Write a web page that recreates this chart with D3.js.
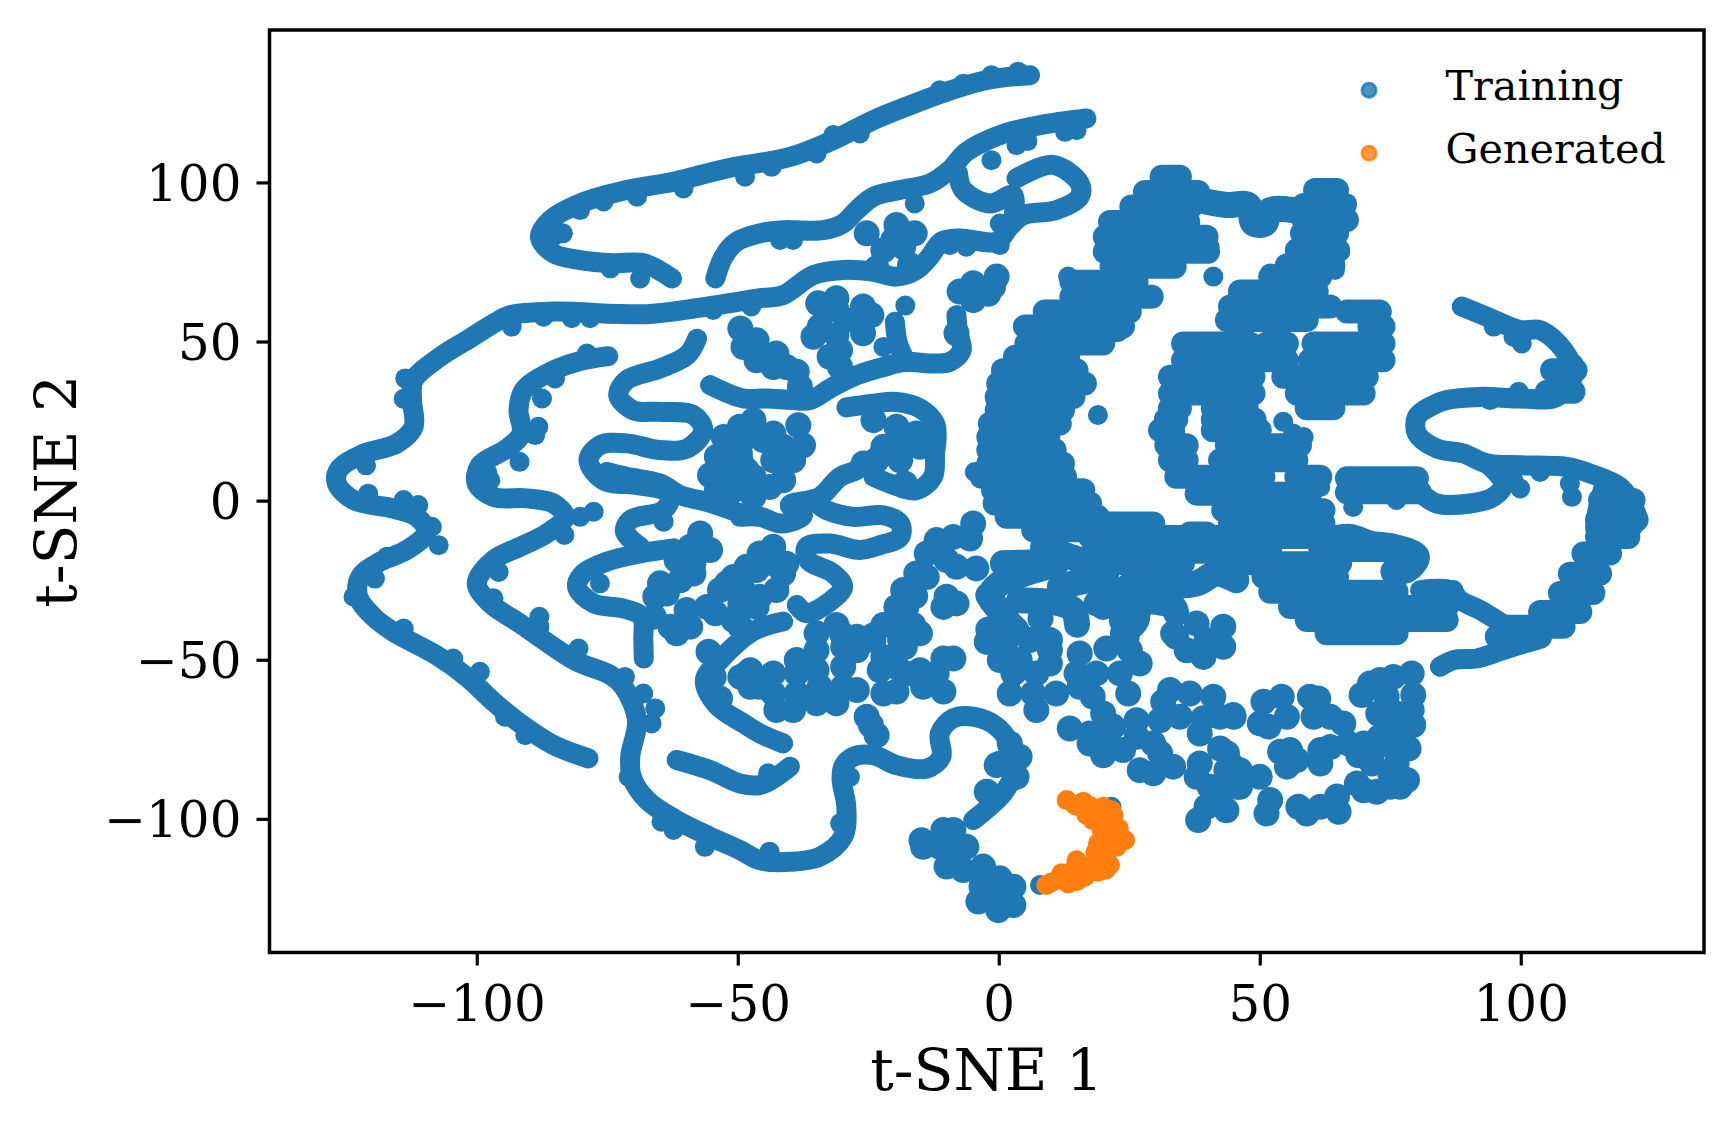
<!DOCTYPE html>
<html>
<head>
<meta charset="utf-8">
<script src="https://cdn.jsdelivr.net/npm/d3@7"></script>
<style>
	html, body { margin: 0; padding: 0; background: #fff; }
	svg { display: block; }
	text { font-family: "DejaVu Serif", serif; fill: #000; }
</style>
</head>
<body>
<div id="main"></div>
<script>
// ===========================Data=======================
const xTicks = [-100, -50, 0, 50, 100];
const yTicks = [-100, -50, 0, 50, 100];
const seriesNames = ['Training', 'Generated'];
const seriesColors = ['#1f77b4', '#ff7f0e'];

// training embedding, thin ridges as [t-SNE 1, t-SNE 2]
const ridgeTop = [[-62.6,69.8],[-68,74.6],[-73.8,74.6],[-80.2,75.6],[-85.3,77.7],[-87.9,82.9],[-85.9,88.2],[-80.2,93.4],[-71.3,97.6],[-62.3,100.2],[-52.1,104.4],[-40,108],[-31.7,113.3],[-24,119.6],[-17.7,123.8],[-10,128.5],[-2.3,132.2],[6,133.7]];
const ridgeSecond = [[-54.3,69.8],[-52.7,76.7],[-50.2,81.4],[-45.8,84],[-41.3,85],[-33.6,85],[-29.8,87.1],[-27.2,91.3],[-24,95.5],[-19,97.6],[-13.2,99.7],[-9.4,103.9],[-6.2,109.6],[.2,114.9],[7.9,118],[16.8,120.1]];
const ridgeLongest = [[-78.6,-81],[-85.3,-76.8],[-91.7,-70],[-96.8,-63.2],[-101.9,-55.4],[-107.7,-48.6],[-116,-41.2],[-119.8,-36.5],[-122.7,-30.2],[-122.3,-23.9],[-118.5,-19.2],[-113.4,-15.5],[-109.6,-9.8],[-111.5,-5.1],[-116,-2.5],[-123.6,.2],[-126.8,5.4],[-126.5,9.6],[-122.3,14.3],[-115.3,18],[-112.1,23.2],[-112.4,31.6],[-112.1,37.8],[-107,45.2],[-101.9,50.4],[-96.2,56.2],[-93.6,58.3],[-85.3,59.4],[-67.4,58.6],[-55.9,61],[-45.7,63.6],[-41.3,64.6],[-35.5,70.9],[-29.8,72.5],[-24,71.9],[-19.6,70.4],[-15.8,72.5],[-13.2,76.7],[-11,81.4],[-7.5,82.4],[-.4,81.4],[2.1,86.1],[4.7,89.7],[11,91.3],[15.5,95.5],[15.5,99.7],[10.4,105.5],[3.4,101.3]];
const ridgeLoop = [[-7.8,102.8],[-6.8,97.6],[-1.7,93.4],[2.8,96],[2.8,89.2]];
const ridgeSecondS = [[-74.8,45.4],[-80.8,43.6],[-86.6,39.9],[-91,34.7],[-92,28.4],[-91.4,21.1],[-94.2,16.4],[-99.4,11.1],[-100,5.4],[-96.8,1.2],[-90.4,.7],[-85.3,-.9],[-83.1,-5.1],[-86.6,-10.3],[-91.7,-14.5],[-96.8,-18.7],[-100,-26],[-97.4,-32.3],[-91.7,-38.6],[-87.2,-43.8],[-80.8,-50.6],[-74.4,-54.8],[-71.9,-58.5],[-69.3,-69],[-70.6,-80.5],[-70.3,-86.8],[-67.4,-94.1],[-61.7,-100.4],[-55.3,-105.6],[-49.6,-109.8],[-45.8,-113],[-40,-113.5],[-34.3,-111.9],[-29.8,-105.6],[-29.2,-96.2],[-30.1,-87.8],[-29.8,-83.6],[-27.9,-80.5],[-24,-80],[-19.6,-83.1],[-13.8,-84.2],[-11,-80.5],[-11.3,-73.2],[-8.7,-68.4],[-4.9,-67.9],[-.4,-71],[2.4,-77.4],[3.1,-84.7],[.8,-92],[-4.9,-100.4]];
const ridgeThirdS = [[-57.8,50.9],[-59.7,45.7],[-64.9,41.5],[-71.3,37.9],[-72.9,33.1],[-70,28.4],[-64.9,27.9],[-58.5,26.9],[-56.6,22.1],[-59.7,16.4],[-64.9,15.9],[-71.3,18],[-76.4,17.4],[-78.6,12.7],[-75.7,6.4],[-69.3,4.9],[-64.2,3.3],[-62.9,1.2],[-64.2,-3],[-70.6,-6.1],[-71.6,-9.8],[-68.7,-14.5]];
const ridgeThirdArm = [[-75.1,9],[-71.3,7.5],[-64.9,5.4],[-61,1.7],[-55.9,-.4],[-49.5,-4]];
const ridgeLowerHook = [[-62.3,-15],[-68.7,-16.6],[-75.1,-19.2],[-79.6,-22.9],[-80.8,-27.1],[-77.6,-32.3],[-71.9,-33.9],[-68.4,-36.5],[-68.1,-43.8],[-68,-49.6]];
const ridgeShortTail = [[-61.7,-81.5],[-55.3,-84.7],[-49.6,-88.9],[-45.8,-89.4],[-42.6,-86.8],[-40,-83.6]];
const ridgeInnerHook = [[-41.3,-38],[-47,-41],[-53.4,-50.1],[-56.3,-56.4],[-54,-64.3],[-48.9,-70],[-45.7,-73.2],[-41.3,-76.3]];
const ridgeMiddle = [[-55.3,36.3],[-48.9,32.1],[-44.5,32.1],[-39.4,31.6],[-36.2,31.6],[-31.7,35.8],[-27.2,39.4],[-22.1,42],[-17.7,43.6],[-13.2,43.1],[-9.4,43.6],[-7.1,47.3],[-7.8,53],[-8.1,58.3]];
const ridgeStem = [[-17.7,43.6],[-19.3,49.4],[-19.9,56.2]];
const ridgeRing = [[-29.2,29.3],[-24,30.5],[-19.6,31],[-15.1,29],[-12.2,24.2],[-11.9,20],[-12.2,14.8],[-12.6,7.5],[-15.8,3.3],[-20.9,5.4],[-24,7.5]];
const ridgeDiagonal = [[-49.6,-5.1],[-45.8,-5.1],[-41.6,-7.2],[-37.5,-4.6],[-40,-1.4],[-34.3,1.2],[-30.4,7.5],[-27.2,9.6],[-22.8,14.8]];
const ridgeCentreS = [[-40,-1.4],[-35.5,-.4],[-33,-3],[-27.9,-5.1],[-22.1,-4.6],[-18.9,-7.2],[-18.9,-11.4],[-22.8,-14],[-26.6,-15.5],[-32.4,-13.5],[-36.8,-14.5],[-36.5,-18.7],[-31.7,-22.9],[-29.8,-27.1],[-32.4,-31.8],[-36.8,-35.4],[-38.7,-32.8]];
const ridgeUpperRight = [[88.7,61],[93.5,57.8],[99.9,53.6],[103.7,53.6],[108.2,47.3],[110.1,39.9],[106.9,32.6],[99.9,32.1],[92.2,32.6],[85.8,31.6],[82.6,29.5],[80.1,26.3],[80.1,21.1],[83.9,16.4],[89,14.8],[93.5,11.7],[99.9,11.1],[108.8,10.6],[113.3,8.5],[119,4.3],[121.6,-1.9],[122.2,-6.1],[119.7,-10.3],[114.6,-10.3],[114.6,-4],[115.9,4.3]];
const ridgeFork = [[93.5,11.7],[96.7,5.4],[94.8,1.2],[90.3,-.9],[83.9,-.9],[80.7,2.2],[76.2,4.3],[71.1,5.4]];
const ridgeLowerRight = [[84.5,-52.2],[87.1,-50.1],[91.6,-49.6],[94.8,-48],[98.6,-45.9],[103,-43.8]];
const ridgeReturn = [[97.3,-39.6],[92.2,-34.4],[88.4,-31.3],[86.5,-28.1],[80.7,-28.1]];
const ridgeBridge = [[39.8,93.9],[43.7,92.9],[47.8,92.9],[48.8,87.1],[51,87.1],[52,91.3],[56.4,91.3]];
const ridgeBand = [[62.8,-12.4],[67.3,-11.4],[71.1,-13.5],[75.6,-14.5],[80.1,-17.6],[78.2,-21.8],[75.6,-22.3]];
const ridgeLowerA = [[8.5,-14.5],[13.6,-17.6],[15.5,-18.7],[20.6,-22.9]];
const ridgeLowerB = [[18.7,-32.3],[21.9,-30.2],[26.4,-25.5],[29.6,-25],[32.8,-26.5],[37.9,-26],[41.7,-22.9],[45.5,-25]];
const ridgeLowerC = [[.8,-19.7],[11,-19.7],[5,-22.9],[.2,-26],[-1.7,-30.2],[-.4,-33.4],[1.5,-37.5],[3.4,-40.7]];
const ridgeLowerD = [[3.9,-31.3],[11.7,-32.3],[14.3,-34.4],[15,-39]];
const ridgeLowerE = [[11.7,-27.1],[14.3,-26],[20,-24]];
const ridgeLowerF = [[26.4,-31.3],[26.4,-37.5],[23.8,-41.7]];
const ridgeLowerG = [[20,-33.4],[26.4,-31.3],[33.4,-33.4],[34,-35.4]];

// dense parts of the training cloud read as horizontal runs [t-SNE 1 from, t-SNE 1 to, t-SNE 2]
const runsCentre = [[5.8,22.7,53.6],[5.3,20,49.4],[3.1,13.3,45.2],[.8,14.9,41],[-.1,16.5,36.8],[-.4,14.3,32.6],[-.4,12.3,28.4],[-1.7,11.7,24.2],[-2,9.5,20],[-2,10.7,15.9],[-2,12.3,11.7],[-3.3,12.7,7.5],[-1.1,16.2,3.3],[-.8,17.5,-.9],[1.5,19,-5.1],[6.6,20,-9.3]];
const runsTopCentre = [[31.2,34.7,101.8],[28,38.2,97],[25.4,36.9,92.4],[21.3,36.3,87.6],[20.3,39.8,82.9],[20.3,40.1,78.2],[21.6,33.7,73.5],[13.9,26.4,68.8],[13.9,29.3,64.1],[8.8,25.1,59.4],[5,23.8,54.7]];
const runsTopRight = [[60.6,64.8,97.6],[58.4,66.3,92.9],[58.4,66.7,88.2],[58.1,64.8,84],[57.1,65,78.7],[55.2,64.1,74],[52,61.6,70.4],[46.2,60.9,65.7],[44.3,63.5,61],[43.7,59,56.8],[66.7,73,59.4],[71,73.7,54.7]];
const runsCrescent = [[35.3,48.1,49.4],[51.3,55.2,49.4],[60.3,73.7,49.4],[35.3,55.2,44.1],[59.6,73.7,44.1],[32.8,48.8,38.9],[54.5,70.5,38.9],[32.8,48.8,33.7],[57.1,69.9,33.7],[32.8,34.7,29],[41,47.5,29],[59,64.1,29],[32,34,25.5],[41,49,25.5],[30.9,33.4,22.1],[41,50,22.1],[32.1,36,17.4],[43.7,57.7,17.4],[32.8,36,12.7],[42.4,57,12.7],[34,39.8,7.5],[42.4,50.7,7.5],[57,61.6,7.5],[37.9,59.6,2.2],[43,62.2,-3],[44.3,62.2,-7.2],[46.2,66.7,-11.4],[43.7,52,-15.5],[61.6,76.2,-15.5],[45.6,65.4,-19.7],[50.7,64.8,-23.9],[52,76.2,-28.6],[55.8,85.8,-33.4],[59,85.8,-37.5],[62.8,76.2,-41.7]];
const runsBand = [[20,29.6,-7.2],[36.6,39.8,-10.3],[17.5,46.2,-11.4],[18,44.3,-16.1],[23.8,35.3,-19.7]];
const runsRightArm = [[112,117.1,-16.6],[109.4,115.2,-23],[107.5,113.9,-29],[103.7,111.4,-35],[97.3,108.2,-39.6],[95.4,103.7,-42.8],[114.6,120.6,-11.4],[114.6,122.2,-6],[115.2,121.6,.2],[66.7,80.1,7],[66.7,80.7,2.6],[105,110.1,34.2],[106,110.5,41]];

// single training points around the ridges
const bumpsUpperLeft = [[-80.2,91.3],[-75.7,94],[-69.3,95.5],[-60.4,98.1],[-48.6,101.8],[-43.5,104.9],[-34.9,109.1],[-31.7,114.9],[-26.6,115.4],[-11.3,129],[-6.8,131],[-1.4,133.7],[3.7,134.8],[-68.7,69.8],[-74.4,73],[-85.3,83],[-85.9,78.7],[-83.5,84],[-41.9,81.9],[-39.4,81.9],[-93.3,54.7],[-87.2,57.8],[-81.8,57.3],[-78.3,57.3],[-54.7,59.9],[-47.4,61],[-16.1,93.4],[-1.4,107],[3.4,111.7],[5.5,113],[12.7,115.9],[14.9,116.4],[.2,87.1],[.2,80.3],[-6.2,79.8],[-9.4,80.3],[-17.9,61.3],[-22.1,48.3]];
const bumpsLeftEdge = [[-113.7,38.4],[-114,32],[-121.2,11.1],[-120.8,2.2],[-114,.2],[-111.2,-1.4],[-108.6,-8.2],[-107.3,-14],[-117.2,-17.6],[-119.5,-24.5],[-123.6,-30.2],[-114,-40.2],[-104.5,-49.6],[-99.4,-53.8],[-94.6,-67.9],[-90.7,-73.7],[-78.9,46.2],[-85,38.4],[-87.5,32.1],[-88.2,23.2],[-88.8,20.6],[-91.8,12.2],[-97.4,6.4],[-98,9],[-77.6,-3.5],[-80.2,-5.1],[-83.2,-10.8],[-95.8,-22.4],[-96.8,-30.7],[-88,-36.5],[-88,-39.6],[-80.5,-46.5],[-71.6,-55.4],[-68.1,-60.6],[-65.8,-65.3],[-66.5,-70],[-70.9,-86.8],[-64.6,-100.9],[-62.3,-103.5],[-56.3,-108.8],[-43.9,-110.3],[-30.4,-101.4],[-28.5,-86.8],[-64.2,-6.6],[-76.4,-26],[-44.2,-85.7]];
const bumpsRight = [[40.4,79.8],[41.1,70.4],[13.3,70.4],[-4.6,9],[19,26.9],[52,71.4],[64.4,72.5],[65.4,78.2],[66.7,93.4],[54.5,24.8],[56.4,21.1],[58.4,20],[57.1,11.7],[61.6,7.5],[61.6,4.3],[67.9,-2],[76.2,.2],[99.9,3.8],[98.6,6.4],[109.8,1.2],[109.4,5.4],[103.7,9],[94.8,54.7],[100.2,49.4],[98.6,51.5],[99.6,34.2],[94.1,31.6],[108.8,41],[110.1,43],[105,34.2],[80.1,-17.6],[87.1,-28.1],[34,-33],[23,-38]];

// loose training clumps, one entry per lobe of overlapping points
const clumpUpperMiddle = [[-25.3,84],[-19.6,86.6],[-16.1,84],[-22.1,78.7],[-18.3,79.8],[-20.2,81.9],[-23.4,73],[-17,74],[-8.1,52.6],[-4.9,63],[-1.1,67.2],[-.4,70.4],[-4.9,68.3],[-7.5,65.7],[-2,65],[-49.5,54.1],[-48.9,48.3],[-46.4,44.1],[-46.4,50.4],[-46.4,47.3],[-42.6,46.2],[-40.7,42],[-38.7,40.5],[-43.2,42],[-34.6,62],[-31.1,63.6],[-26,61],[-24.4,58.3],[-34.3,54.7],[-29.2,56.8],[-31.1,59.9],[-27,57],[-35.5,51.5],[-31.1,52],[-26,52.6],[-32.4,45.2],[-30.4,47.3],[-30.4,42],[-38.1,35.8]];
const clumpMidLeft = [[-38.4,23.7],[-37.5,17.4],[-39.4,12.7],[-41.3,6.4],[-43.2,21.1],[-47,25.3],[-49.6,23.2],[-43.2,12.7],[-47,7.5],[-43.9,4.3],[-49.6,14.8],[-41.3,16.9],[-49.6,7.5],[-47,1.2],[-45.1,19],[-49,19],[-52.7,20],[-54,13.8],[-50.2,20],[-55.3,8],[-52.1,8.5],[-50.8,3.3],[-54,3.3],[-49.5,12.7],[-52.1,14.8],[-48.3,9.6],[-24,25.3],[-19.6,23.2],[-15.8,21.1],[-22.1,16.9],[-19.6,15.9],[-18.9,12.7],[-15.1,16.9],[-17.7,19],[-23.4,12.7],[-25.9,11.7],[-18,5.4]];
const clumpLowerLeft = [[-43.2,-14.5],[-41.3,-22.9],[-45.8,-16.6],[-40.7,-19.8],[-48.3,-20.8],[-43.2,-19.8],[-42.6,-28.1],[-45.8,-30.2],[-49,-28.1],[-46.4,-33.4],[-49.6,-34.4],[-57.2,-10.3],[-55.3,-15.5],[-59.1,-14.5],[-58.5,-19.8],[-61.7,-18.7],[-64.9,-26],[-58.5,-22.9],[-63.6,-29.2],[-65.8,-30.2],[-61,-25],[-66.1,-36.5],[-59.8,-34.4],[-55.9,-33.4],[-62.9,-39.6],[-59.1,-39.6],[-61.7,-41.7],[-54.3,-35.4],[-50.8,-37.5],[-49.5,-39.6],[-52.1,-26],[-49.5,-27.1],[-53.4,-28.1],[-46.4,-21.8],[-50.8,-24],[-47.6,-32.3],[-49.5,-32.3],[-55.6,-47.5],[-54.6,-55.4],[-53.4,-62.2],[-49.5,-55.4],[-47.6,-58.5],[-47.6,-53.3],[-46.4,-57.5]];
const clumpLowerMiddle = [[-48.3,-54.3],[-43.2,-54.3],[-38.7,-50.1],[-34.9,-47],[-29.8,-45.9],[-24,-43.8],[-18.9,-43.8],[-15.1,-41.7],[-38.7,-54.3],[-43.2,-60.6],[-38.7,-60.6],[-34.3,-58.5],[-29.8,-58.5],[-27.2,-59.5],[-31.1,-63.7],[-34.9,-63.7],[-42.6,-65.8],[-45.8,-58.5],[-39.4,-65.8],[-34.9,-53.3],[-29.8,-52.2],[-27.2,-47],[-22.1,-49.1],[-19.6,-52.2],[-22.8,-53.3],[-22.1,-60.6],[-19.6,-60],[-15.1,-53.3],[-10.6,-49.6],[-8.7,-49.6],[-11.9,-54.3],[-10.6,-60],[-14.5,-58.5],[-17.7,-54.3],[-25.3,-67.9],[-23.4,-73.7],[-24.5,-70.5],[-34.9,-41.7],[-31.1,-39.1],[-24,-42.3],[-18.3,-40.2],[-16.4,-39.1],[-17.7,-33.4],[-18.3,-28.1],[-13.8,-16.6],[-15.8,-22.9],[-8.1,-20.8],[-4.3,-21.3],[-10,-30.2],[-8.1,-32.3],[-10.6,-33.4],[-11.9,-12.4],[-8.7,-11.4],[-4.9,-7.2],[-5.5,-11.9],[-13.8,-24],[-10,-18.7],[-19.6,-33.4],[-22.1,-39.1],[-27.2,-42.8],[-16,-30],[-30,-42],[-18,-46]];
const clumpCentreNet = [[-2.3,-44.4],[1.5,-43.8],[6,-43.8],[9.8,-43.8],[9.8,-47],[.2,-50.1],[4,-50],[9.8,-51.2],[2.8,-54.3],[7.2,-54.3],[2.1,-60.6],[6.6,-60.6],[7.2,-65.8],[11,-60.6],[15.5,-58.5],[14.9,-54.3],[18.7,-54.3],[23.2,-54.3],[27,-51.2],[15.5,-48],[20.6,-46.5],[25.1,-47],[24.5,-42.8],[24.8,-60.6],[26.4,-69],[18,-61.6],[20,-66.9],[21.9,-71],[13.6,-71.6],[17.4,-73.2],[17.4,-76.3],[20.6,-73.2],[20,-80],[23.8,-78.4],[26.4,-74.2],[29.6,-76.3],[30.9,-79.4],[27,-84.7],[29.6,-85.7],[33.4,-83.6],[32.8,-59.5],[31.5,-63.2],[36.6,-60.6],[41.1,-61.6],[30.9,-69],[34.7,-67.9],[39.2,-68.4],[38.5,-73.2],[42.4,-67.9],[44.9,-67.4],[42.4,-77.9],[38.5,-82.6],[37.9,-86.8],[40.4,-89.9],[43.6,-84.7],[45.5,-84.7],[43,-91],[43.6,-97.3],[39.8,-96.2],[38.2,-100.4],[33.4,-41.7],[37.9,-38.6],[43,-39.6],[34,-42.8],[39.2,-49.1],[36,-47],[43,-45.9],[39.8,-43.8],[-2,-29.7],[8,-37],[-2,-40.5]];
const clumpLowerRight = [[43.7,-79.4],[44.3,-82.6],[46.2,-89.9],[45.6,-89.9],[50,-86.8],[55.2,-83.6],[61.6,-82.6],[46.2,-84.7],[53.9,-78.9],[55.8,-78.4],[57.1,-81.5],[61.6,-78.4],[63.5,-77.4],[52,-94.1],[51.3,-98.3],[57.4,-96.2],[59,-98.3],[61.6,-96.2],[64.8,-93],[65.1,-97.8],[50.7,-63.2],[54.2,-61.6],[50,-70],[51.7,-71],[55.2,-67.9],[59.6,-61.6],[61.2,-62.2],[60.3,-67.9],[63.5,-67.9],[66,-70],[45,-67.9],[71.1,-57.5],[69.5,-61.1],[73,-56.4],[79.1,-54.3],[75.6,-55.4],[79.4,-61.1],[74.3,-61.6],[72.7,-66.9],[76.2,-66.9],[79.1,-65.8],[79.4,-70.5],[76.2,-72.1],[73,-74.2],[69.9,-76.3],[67,-76.3],[68.9,-80],[72.4,-77.4],[78.5,-77.9],[76.2,-78.4],[71.5,-82.6],[76.2,-82.6],[75,-85.7],[78.2,-87.8],[75,-89.9],[72.4,-91.5],[68.6,-88.9],[69.9,-91],[76.9,-89.9]];
const clumpBottom = [[-14.8,-106.7],[-10.6,-103.5],[-8.7,-103.5],[-14.5,-108.8],[-11.3,-108.8],[-8.7,-108.8],[-6.2,-108.8],[-10,-115],[-6.8,-116.1],[-3,-115],[-2.7,-119.2],[.2,-118.7],[2.8,-121.3],[-3.3,-121.3],[-3.9,-126],[-.1,-128.7],[2.8,-127.1],[-.4,-123.4],[.3,-82.6],[2.1,-76.3],[-.4,-83.1],[-2.3,-91.5],[3.4,-86.8],[4,-80.5]];
const bumpsUnderGenerated = [[7.9,-120.8],[21.6,-96.2]];

// generated samples
const generatedX = [13,16.2,18,20,21.6,19.7,22.6,24.2,19,22.6,18.7,21.3,19,14.9,14.3,16.5,12,13.3,9.1,11.1,16.8,14.5,17.5,15,19,20,21,23,20.5,23,21,20,18.5,20.5,17,15.5,12.5,15,10,21.5,22];
const generatedY = [-94.1,-94.6,-100.4,-96.2,-97.3,-103.5,-104.6,-106.7,-107.7,-108.8,-113,-114.5,-116.6,-113,-116,-118.2,-117.1,-120.3,-120.8,-119.2,-98.8,-95.5,-96,-96,-99,-100,-102,-103,-106,-106,-110,-112,-110.5,-116,-115,-115,-119,-119.5,-120,-106,-99];

const allRidges = [ridgeTop, ridgeSecond, ridgeLongest, ridgeLoop, ridgeSecondS, ridgeThirdS, ridgeThirdArm, ridgeLowerHook, ridgeShortTail, ridgeInnerHook, ridgeMiddle, ridgeStem, ridgeRing, ridgeDiagonal, ridgeCentreS, ridgeUpperRight, ridgeFork, ridgeLowerRight, ridgeReturn];
const thickRidges = [ridgeBridge, ridgeBand, ridgeLowerA, ridgeLowerB, ridgeLowerC, ridgeLowerD, ridgeLowerE, ridgeLowerF, ridgeLowerG];
const allRuns = [].concat(runsCentre, runsTopCentre, runsTopRight, runsCrescent, runsBand, runsRightArm);
const allBumps = [].concat(bumpsUpperLeft, bumpsLeftEdge, bumpsRight, bumpsUnderGenerated);
const allClumps = [].concat(clumpUpperMiddle, clumpMidLeft, clumpLowerLeft, clumpLowerMiddle, clumpCentreNet, clumpLowerRight, clumpBottom);

// ======================svg container config===================
const svgResolution = { "width": 1734, "height": 1134 };
const plotBox = { left: 269.5, right: 1704, top: 30, bottom: 952.5 };
const pointRadius = 10;
const clumpRadius = 13;

const svgContainer = d3.select('#main').append('svg')
	.attr('width', svgResolution['width'])
	.attr('height', svgResolution['height']);

var x_scale = d3.scaleLinear().domain([-139.7, 135.1]).range([plotBox.left, plotBox.right]);
var y_scale = d3.scaleLinear().domain([-142, 147.9]).range([plotBox.bottom, plotBox.top]);

// ======================training cloud===================
var ridgeLine = d3.line().x(d => x_scale(d[0])).y(d => y_scale(d[1])).curve(d3.curveCatmullRom);
const cloud = svgContainer.append('g').attr('class', 'training');

function drawRidges(list, width){
	cloud.selectAll(null).data(list).enter().append('path')
		.attr('d', ridgeLine)
		.attr('fill', 'none')
		.attr('stroke', seriesColors[0])
		.attr('stroke-width', width)
		.attr('stroke-linecap', 'round')
		.attr('stroke-linejoin', 'round');
}
function drawPoints(list, radius){
	cloud.selectAll(null).data(list).enter().append('circle')
		.attr('cx', d => x_scale(d[0]))
		.attr('cy', d => y_scale(d[1]))
		.attr('r', radius)
		.attr('fill', seriesColors[0]);
}

drawRidges(allRidges, 20);
drawRidges(thickRidges, 26);

cloud.selectAll('line.run').data(allRuns).enter().append('line')
	.attr('class', 'run')
	.attr('x1', d => x_scale(d[0]))
	.attr('x2', d => x_scale(d[1]))
	.attr('y1', d => y_scale(d[2]))
	.attr('y2', d => y_scale(d[2]))
	.attr('stroke', seriesColors[0])
	.attr('stroke-width', 24)
	.attr('stroke-linecap', 'round');

drawPoints(allBumps, pointRadius);
drawPoints(allClumps, clumpRadius);

// generated samples sit on top
svgContainer.append('g').attr('class', 'generated')
	.selectAll('circle').data(generatedX).enter().append('circle')
	.attr('cx', d => x_scale(d))
	.attr('cy', (d, i) => y_scale(generatedY[i]))
	.attr('r', pointRadius)
	.attr('fill', seriesColors[1]);

// ======================axes and labels===================
var x_axis = d3.axisBottom(x_scale).tickValues(xTicks).tickFormat(d3.format('d')).tickSize(13).tickPadding(20).tickSizeOuter(0);
var y_axis = d3.axisLeft(y_scale).tickValues(yTicks).tickFormat(d3.format('d')).tickSize(13).tickPadding(15).tickSizeOuter(0);

const xAxisGroup = svgContainer.append('g')
	.attr('transform', 'translate(0,' + plotBox.bottom + ')')
	.call(x_axis);
const yAxisGroup = svgContainer.append('g')
	.attr('transform', 'translate(' + plotBox.left + ',0)')
	.call(y_axis);
[xAxisGroup, yAxisGroup].forEach(function(g){
	g.select('.domain').remove();
	g.selectAll('.tick line').attr('stroke', '#000').attr('stroke-width', 3.2);
	g.selectAll('.tick text').style('font-family', '"DejaVu Serif", serif').style('font-size', '50px').attr('fill', '#000');
});
yAxisGroup.selectAll('.tick text').attr('dy', '0.36em');

// frame
svgContainer.append('rect')
	.attr('x', plotBox.left)
	.attr('y', plotBox.top)
	.attr('width', plotBox.right - plotBox.left)
	.attr('height', plotBox.bottom - plotBox.top)
	.attr('fill', 'none')
	.attr('stroke', '#000')
	.attr('stroke-width', 3.5);

svgContainer.append('text')
	.attr('x', (plotBox.left + plotBox.right) / 2)
	.attr('y', 1090)
	.attr('text-anchor', 'middle')
	.style('font-size', '58.5px')
	.text('t-SNE 1');

svgContainer.append('text')
	.attr('transform', 'translate(76,' + (plotBox.top + plotBox.bottom) / 2 + ') rotate(-90)')
	.attr('text-anchor', 'middle')
	.style('font-size', '58.5px')
	.text('t-SNE 2');

// ======================legend===================
const legendRows = svgContainer.selectAll('g.legend').data(seriesNames).enter().append('g')
	.attr('class', 'legend')
	.attr('transform', (d, i) => 'translate(1369,' + (90.3 + i * 63) + ')');

legendRows.append('circle')
	.attr('r', 7)
	.attr('fill', (d, i) => seriesColors[i])
	.attr('fill-opacity', 0.8)
	.attr('stroke', (d, i) => seriesColors[i])
	.attr('stroke-opacity', 0.8)
	.attr('stroke-width', 3);

legendRows.append('text')
	.attr('x', 76.5)
	.attr('y', 10)
	.style('font-size', '41.3px')
	.text(d => d);
</script>
</body>
</html>
